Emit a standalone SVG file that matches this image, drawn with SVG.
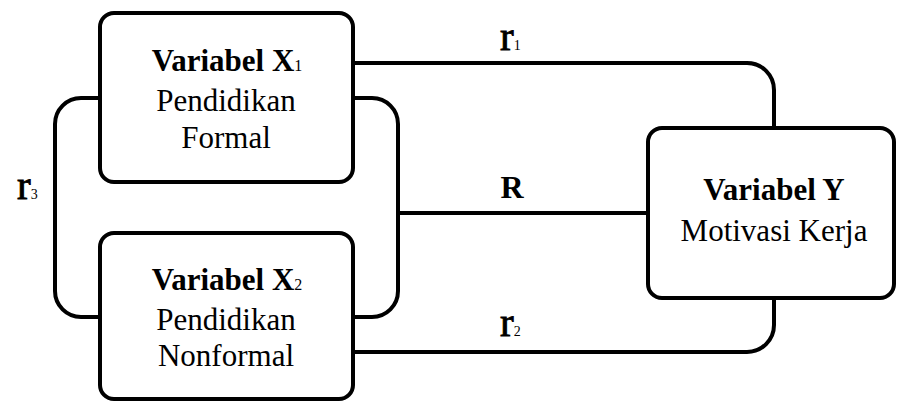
<svg xmlns="http://www.w3.org/2000/svg" width="897" height="403" viewBox="0 0 897 403">
<style>
.box{fill:#fff;stroke:#000;stroke-width:4}
.ln{fill:none;stroke:#000;stroke-width:4}
.t{font-size:31px;text-anchor:middle}
.b{font-weight:bold}
.sub{font-size:16px;font-weight:normal}
.r{font-size:41px;stroke:#000;stroke-width:0.9}
.rs{font-size:14px;stroke-width:0}
</style>
<rect width="897" height="403" fill="#fff"/>
<g font-family="Liberation Serif, Tinos, DejaVu Serif, serif" fill="#000">
<g id="connectors">
<path class="ln" d="M353,63 H747 A27,27 0 0 1 774,90 V128"/>
<path class="ln" d="M353,352 H747 A27,27 0 0 0 774,325 V298"/>
<path class="ln" d="M100,98 H81 A26,26 0 0 0 55,124 V291 A26,26 0 0 0 81,317 H100"/>
<path class="ln" d="M353,98 H372 A26,26 0 0 1 398,124 V291 A26,26 0 0 1 372,317 H353"/>
<path class="ln" d="M398,213 H648"/>
<text class="r" x="500" y="50">r<tspan class="rs">1</tspan></text>
<text class="r" x="500" y="336">r<tspan class="rs">2</tspan></text>
<text class="r" x="17" y="199">r<tspan class="rs">3</tspan></text>
<text class="t b" x="512" y="198" style="font-size:32px">R</text>
</g>
<g id="x1">
<rect class="box" x="100" y="13" width="253" height="169" rx="14"/>
<text class="t b" x="227" y="71">Variabel X<tspan class="sub">1</tspan></text>
<text class="t" x="226" y="111">Pendidikan</text>
<text class="t" x="226" y="148">Formal</text>
</g>
<g id="x2">
<rect class="box" x="100" y="233" width="253" height="166" rx="14"/>
<text class="t b" x="227" y="290">Variabel X<tspan class="sub">2</tspan></text>
<text class="t" x="226" y="330">Pendidikan</text>
<text class="t" x="226" y="366">Nonformal</text>
</g>
<g id="y">
<rect class="box" x="648" y="128" width="246" height="170" rx="14"/>
<text class="t b" x="774" y="200">Variabel Y</text>
<text class="t" x="774" y="241">Motivasi Kerja</text>
</g>
</g>
</svg>
